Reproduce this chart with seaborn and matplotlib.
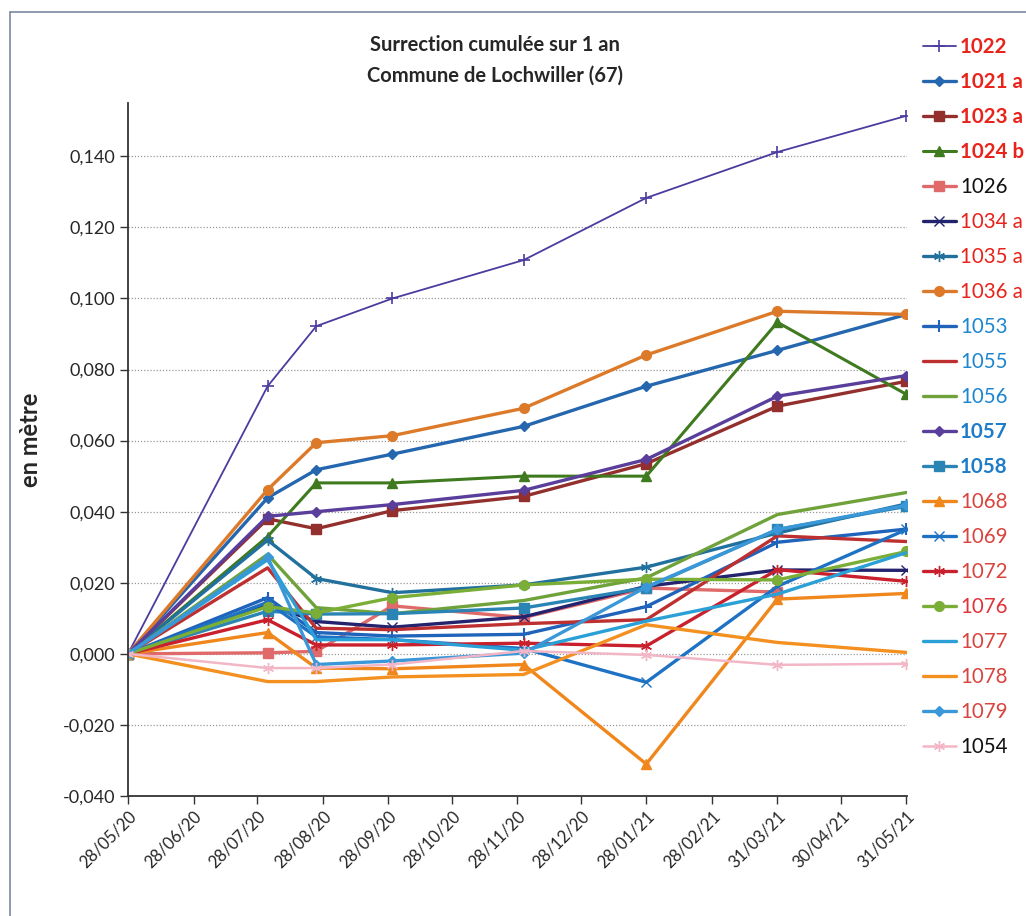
import numpy as np
import pandas as pd
import matplotlib
matplotlib.use("Agg")
import matplotlib.pyplot as plt
from matplotlib.lines import Line2D
import seaborn as sns

# ---------------- data ----------------
dates = pd.to_datetime(["2020-05-28", "2020-08-02", "2020-08-25", "2020-09-30",
                        "2020-12-01", "2021-01-28", "2021-03-31", "2021-05-31"])

s1022 = [0, 0.0753, 0.0922, 0.100, 0.1108, 0.1283, 0.1412, 0.1514]
s1021a = [0, 0.0439, 0.0518, 0.0562, 0.0640, 0.0753, 0.0854, 0.0955]
s1023a = [0, 0.0380, 0.0352, 0.0403, 0.0443, 0.0535, 0.0697, 0.0767]
s1024b = [0, 0.0330, 0.0481, 0.0481, 0.0500, 0.0500, 0.0933, 0.0730]
s1026 = [0, 0.0003, 0.0007, 0.0135, 0.0102, 0.0185, 0.0174, np.nan]
s1034a = [0, 0.0140, 0.0091, 0.0075, 0.0104, 0.0190, 0.0236, 0.0235]
s1035a = [0, 0.0320, 0.0212, 0.0172, 0.0194, 0.0244, 0.0340, 0.0422]
s1036a = [0, 0.0462, 0.0594, 0.0614, 0.0691, 0.0841, 0.0964, 0.0955]
s1053 = [0, 0.0158, 0.0060, 0.0050, 0.0055, 0.0133, 0.0314, 0.0351]
s1055 = [0, 0.0242, 0.0072, 0.0068, 0.0085, 0.0096, 0.0332, 0.0316]
s1056 = [0, 0.0280, 0.0130, 0.0113, 0.0150, 0.0214, 0.0392, 0.0454]
s1057 = [0, 0.0387, 0.0400, 0.0420, 0.0460, 0.0547, 0.0725, 0.0783]
s1058 = [0, 0.0120, 0.0112, 0.0113, 0.0129, 0.0186, 0.0350, 0.0415]
s1068 = [0, 0.0060, -0.0040, -0.0042, -0.0030, -0.0310, 0.0154, 0.0170]
s1069 = [0, 0.0145, 0.0048, 0.0040, 0.0015, -0.0080, 0.0190, 0.0350]
s1072 = [0, 0.0096, 0.0025, 0.0025, 0.0030, 0.0022, 0.0237, 0.0204]
s1076 = [0, 0.0133, 0.0115, 0.0158, 0.0194, 0.0210, 0.0208, 0.0288]
s1077 = [0, 0.0265, 0.0040, 0.0040, 0.0010, 0.0092, 0.0168, 0.0285]
s1078 = [0, -0.0078, -0.0078, -0.0065, -0.0058, 0.0082, 0.0032, 0.0004]
s1079 = [0, 0.0272, -0.0030, -0.0020, 0.0002, 0.0188, 0.0350, 0.0418]
s1054 = [0, -0.0040, -0.0040, -0.0030, 0.0008, -0.0003, -0.0031, -0.0028]

names = ["1022", "1021 a", "1023 a", "1024 b", "1026", "1034 a", "1035 a", "1036 a",
         "1053", "1055", "1056", "1057", "1058", "1068", "1069", "1072", "1076",
         "1077", "1078", "1079", "1054"]
values = [s1022, s1021a, s1023a, s1024b, s1026, s1034a, s1035a, s1036a,
          s1053, s1055, s1056, s1057, s1058, s1068, s1069, s1072, s1076,
          s1077, s1078, s1079, s1054]

y_ticks = [-0.04, -0.02, 0.0, 0.02, 0.04, 0.06, 0.08, 0.10, 0.12, 0.14]
x_tick_dates = pd.to_datetime(["2020-05-28", "2020-06-28", "2020-07-28", "2020-08-28",
                               "2020-09-28", "2020-10-28", "2020-11-28", "2020-12-28",
                               "2021-01-28", "2021-02-28", "2021-03-31", "2021-04-30",
                               "2021-05-31"])

# ---------------- styles ----------------
styles = {
    "1022":   dict(color="#4A3C9E", marker="+", lw=1.3, ms=8, mew=1.2),
    "1021 a": dict(color="#2467AE", marker="D", lw=2.4, ms=5, mew=1),
    "1023 a": dict(color="#93302E", marker="s", lw=2.4, ms=6.5, mew=1),
    "1024 b": dict(color="#3F7A1E", marker="^", lw=2.2, ms=7, mew=1),
    "1026":   dict(color="#E06A6A", marker="s", lw=2.4, ms=6.5, mew=1),
    "1034 a": dict(color="#23236E", marker="x", lw=2.4, ms=7, mew=1),
    "1035 a": dict(color="#22709E", marker=(6, 2, 0), lw=2.4, ms=8, mew=1),
    "1036 a": dict(color="#DD7A2A", marker="o", lw=2.4, ms=7, mew=1),
    "1053":   dict(color="#1F63BA", marker="+", lw=2.4, ms=9, mew=1.5),
    "1055":   dict(color="#BE3030", marker="None", lw=2.4, ms=0, mew=0),
    "1056":   dict(color="#6FA23A", marker="None", lw=2.4, ms=0, mew=0),
    "1057":   dict(color="#5A3E9C", marker="D", lw=2.4, ms=5.5, mew=1),
    "1058":   dict(color="#2A85B5", marker="s", lw=2.4, ms=6.5, mew=1),
    "1068":   dict(color="#F0871C", marker="^", lw=2.4, ms=7, mew=1),
    "1069":   dict(color="#1E72C4", marker="x", lw=2.4, ms=7, mew=1),
    "1072":   dict(color="#C8202C", marker=(6, 2, 0), lw=2.4, ms=8, mew=1),
    "1076":   dict(color="#7AAE36", marker="o", lw=2.4, ms=7, mew=1),
    "1077":   dict(color="#2AA0D6", marker="None", lw=2.4, ms=0, mew=0),
    "1078":   dict(color="#F39020", marker="None", lw=2.4, ms=0, mew=0),
    "1079":   dict(color="#3A98D8", marker="D", lw=2.4, ms=5.5, mew=1),
    "1054":   dict(color="#F2B6C6", marker=(6, 2, 0), lw=1.8, ms=8, mew=1),
}

legend_text_style = {
    "1022": ("#E8231B", "bold"), "1021 a": ("#E8231B", "bold"),
    "1023 a": ("#E8231B", "bold"), "1024 b": ("#E8231B", "bold"),
    "1026": ("#111111", "normal"),
    "1034 a": ("#E8231B", "normal"), "1035 a": ("#E8231B", "normal"),
    "1036 a": ("#E8231B", "normal"),
    "1053": ("#1E86CF", "normal"), "1055": ("#1E86CF", "normal"),
    "1056": ("#1E86CF", "normal"), "1057": ("#1E7CC8", "bold"),
    "1058": ("#1E7CC8", "bold"),
    "1068": ("#D9443E", "normal"), "1069": ("#D9443E", "normal"),
    "1072": ("#D9443E", "normal"), "1076": ("#E0343A", "normal"),
    "1077": ("#D9443E", "normal"), "1078": ("#D9443E", "normal"),
    "1079": ("#D9443E", "normal"), "1054": ("#111111", "normal"),
}

# ---------------- figure ----------------
sns.set_theme(style="white")
plt.rcParams["font.family"] = ["Lato", "DejaVu Sans"]

fig = plt.figure(figsize=(10.26, 9.16), dpi=100)
ax = fig.add_axes([128 / 1026, 1 - 796 / 916, (907 - 128) / 1026, (796 - 103) / 916])

for n, v in zip(names, values):
    st = styles[n]
    d = pd.DataFrame({"date": dates, "val": v}).dropna()
    sns.lineplot(data=d, x="date", y="val", ax=ax, color=st["color"],
                 marker=st["marker"], linewidth=st["lw"], markersize=st["ms"],
                 markeredgewidth=st["mew"], markeredgecolor=st["color"],
                 label=n, legend=False, errorbar=None)

ax.set_xlim(dates[0], dates[-1] + pd.Timedelta(hours=6))
ax.set_ylim(-0.04, 0.155)
ax.set_yticks(y_ticks)
ax.set_yticklabels([f"{t:.3f}".replace(".", ",") for t in y_ticks], fontsize=13)
ax.set_xticks(x_tick_dates)
ax.set_xticklabels([d.strftime("%d/%m/%y") for d in x_tick_dates], rotation=45,
                   ha="right", rotation_mode="anchor", fontsize=12)
ax.set_xlabel("")
ax.set_ylabel("")

ax.grid(axis="y", color="#999999", linestyle=(0, (1, 1.5)), linewidth=0.9)
ax.grid(axis="x", visible=False)
for s in ["top", "right"]:
    ax.spines[s].set_visible(False)
for s in ["left", "bottom"]:
    ax.spines[s].set_color("#333333")
    ax.spines[s].set_linewidth(1.3)
ax.tick_params(axis="both", which="major", direction="out", length=6, width=1,
               color="#333333", left=True, bottom=True, pad=3)

fig.text(31 / 1026, 1 - 440 / 916, "en mètre", rotation=90, ha="center", va="center",
         fontsize=17, fontweight="bold")

fig.text(0.482, 1 - 45 / 916, "Surrection cumulée sur 1 an", ha="center", va="center",
         fontsize=14.5, fontweight="bold")
fig.text(0.482, 1 - 76 / 916, "Commune de Lochwiller (67)", ha="center", va="center",
         fontsize=14.5, fontweight="bold")

handles = []
for n in names:
    st = styles[n]
    handles.append(Line2D([0], [0], color=st["color"], marker=st["marker"],
                          linewidth=st["lw"], markersize=st["ms"],
                          markeredgewidth=st["mew"], markeredgecolor=st["color"]))
leg = fig.legend(handles, names, loc="upper left",
                 bbox_to_anchor=(923 / 1026, 1 - 37 / 916), frameon=False,
                 fontsize=14.8, handlelength=1.6, handletextpad=0.2,
                 labelspacing=0.73, borderaxespad=0, borderpad=0)
for t in leg.get_texts():
    c, w = legend_text_style[t.get_text()]
    t.set_color(c)
    t.set_fontweight(w)

# chart frame (left and top edges)
fig.add_artist(Line2D([10 / 1026, 10 / 1026], [0, 1 - 12 / 916], transform=fig.transFigure,
                      color="#7a8aa0", linewidth=1.2))
fig.add_artist(Line2D([10 / 1026, 1], [1 - 12 / 916, 1 - 12 / 916], transform=fig.transFigure,
                      color="#7a8aa0", linewidth=1.2))

fig.savefig("out.png", dpi=100)
